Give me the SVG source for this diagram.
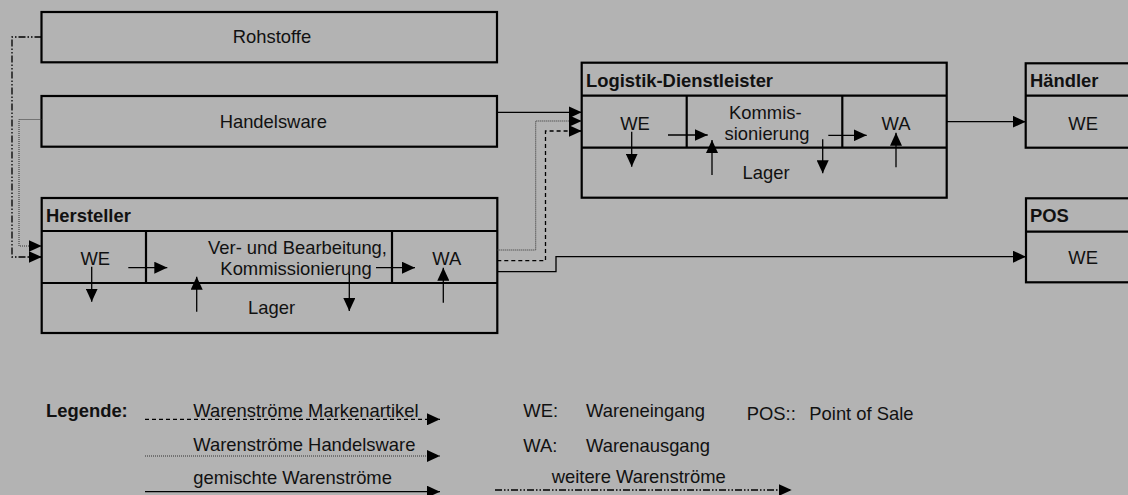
<svg xmlns="http://www.w3.org/2000/svg" width="1128" height="495" viewBox="0 0 1128 495">
<defs>
<marker id="ah" markerUnits="userSpaceOnUse" markerWidth="13" markerHeight="12" viewBox="0 0 13 12" refX="13" refY="6" orient="auto"><path d="M0,0 L13,6 L0,12 Z" fill="#000"/></marker>
<style>
.box{fill:none;stroke:#000;stroke-width:2.2}
.ln{fill:none;stroke:#000;stroke-width:1.3}
.c{fill:none;stroke:#000;stroke-width:1.3}
.solid{}
.dash{stroke-dasharray:4 3}
.dot{stroke:#333;stroke-width:1;stroke-dasharray:1 1}
.dd{stroke-dasharray:7 2 1.5 2 1.5 2}
text{font-family:"Liberation Sans",Arial,sans-serif;font-size:18.4px;fill:#111}
.b{font-weight:bold}
.m{text-anchor:middle}
</style>
</defs>
<rect width="1128" height="495" fill="#b3b3b3"/>

<g id="rohstoffe">
<rect class="box" x="41.5" y="12" width="455.5" height="50.3"/>
<text class="m" x="272" y="43.3">Rohstoffe</text>
</g>

<g id="handelsware">
<rect class="box" x="41.5" y="96" width="455.5" height="50.7"/>
<text class="m" x="273.3" y="128.3">Handelsware</text>
</g>

<g id="hersteller">
<rect class="box" x="41.7" y="198" width="455.6" height="135"/>
<line class="box" x1="41.7" y1="231" x2="497.3" y2="231"/>
<line class="box" x1="41.7" y1="283" x2="497.3" y2="283"/>
<line class="box" x1="146" y1="231" x2="146" y2="283"/>
<line class="box" x1="392" y1="231" x2="392" y2="283"/>
<text class="b" x="46" y="222">Hersteller</text>
<text class="m" x="95.3" y="265">WE</text>
<text class="m" x="297.5" y="254">Ver- und Bearbeitung,</text>
<text class="m" x="296" y="275">Kommissionierung</text>
<text class="m" x="446.7" y="265">WA</text>
<text class="m" x="271.5" y="314">Lager</text>
<line class="ln" x1="91.7" y1="266.7" x2="91.7" y2="301.7" marker-end="url(#ah)"/>
<line class="ln" x1="128.3" y1="267.7" x2="167.3" y2="267.7" marker-end="url(#ah)"/>
<line class="ln" x1="196.7" y1="311.7" x2="196.7" y2="276.7" marker-end="url(#ah)"/>
<line class="ln" x1="349.3" y1="274" x2="349.3" y2="311" marker-end="url(#ah)"/>
<line class="ln" x1="376" y1="267.7" x2="415" y2="267.7" marker-end="url(#ah)"/>
<line class="ln" x1="443.3" y1="302.7" x2="443.3" y2="267.7" marker-end="url(#ah)"/>
</g>

<g id="logistik">
<rect class="box" x="581.7" y="62.7" width="365" height="135"/>
<line class="box" x1="581.7" y1="95.7" x2="946.7" y2="95.7"/>
<line class="box" x1="581.7" y1="147.7" x2="946.7" y2="147.7"/>
<line class="box" x1="686.7" y1="95.7" x2="686.7" y2="147.7"/>
<line class="box" x1="842.3" y1="95.7" x2="842.3" y2="147.7"/>
<text class="b" x="586" y="86.7">Logistik-Dienstleister</text>
<text class="m" x="635" y="130">WE</text>
<text class="m" x="765.3" y="119.3">Kommis-</text>
<text class="m" x="767" y="140">sionierung</text>
<text class="m" x="896" y="130">WA</text>
<text class="m" x="766" y="179.3">Lager</text>
<line class="ln" x1="631.7" y1="131.7" x2="631.7" y2="166.7" marker-end="url(#ah)"/>
<line class="ln" x1="668" y1="135" x2="707.7" y2="135" marker-end="url(#ah)"/>
<line class="ln" x1="712" y1="175" x2="712" y2="140" marker-end="url(#ah)"/>
<line class="ln" x1="822.7" y1="139.3" x2="822.7" y2="173.3" marker-end="url(#ah)"/>
<line class="ln" x1="828.3" y1="135.3" x2="866.7" y2="135.3" marker-end="url(#ah)"/>
<line class="ln" x1="896" y1="167.3" x2="896" y2="132.7" marker-end="url(#ah)"/>
</g>

<g id="haendler">
<rect class="box" x="1025.7" y="63.3" width="130" height="84.4"/>
<line class="box" x1="1025.7" y1="95.7" x2="1140" y2="95.7"/>
<text class="b" x="1030" y="87.3">Händler</text>
<text x="1068.3" y="130">WE</text>
</g>

<g id="pos">
<rect class="box" x="1026" y="198.3" width="130" height="84"/>
<line class="box" x1="1026" y1="231.7" x2="1140" y2="231.7"/>
<text class="b" x="1030" y="222.3">POS</text>
<text x="1068.3" y="264">WE</text>
</g>

<g id="connectors">
<polyline class="c dd" points="41.5,37 12,37 12,257 41.7,257" marker-end="url(#ah)"/>
<polyline class="c dot" points="41.5,119.5 19,119.5 19,246 41.7,246" marker-end="url(#ah)"/>
<polyline class="c" points="497,112.3 581.7,112.3" marker-end="url(#ah)"/>
<polyline class="c dot" points="497.3,250 535.7,250 535.7,121 581.7,121" marker-end="url(#ah)"/>
<polyline class="c dash" points="497.3,260.7 545.5,260.7 545.5,131 581.7,131" marker-end="url(#ah)"/>
<polyline class="c" points="497.3,271.7 556,271.7 556,256.7 1026,256.7" marker-end="url(#ah)"/>
<polyline class="c" points="946.7,121.7 1025.7,121.7" marker-end="url(#ah)"/>
</g>

<g id="legend">
<text class="b" x="46" y="416.7">Legende:</text>
<text x="193.3" y="416.7">Warenströme Markenartikel</text>
<text x="193.3" y="451">Warenströme Handelsware</text>
<text x="193.3" y="484.3">gemischte Warenströme</text>
<line class="c dash" x1="145" y1="419.3" x2="440" y2="419.3" marker-end="url(#ah)"/>
<line class="c dot" x1="145" y1="456" x2="440" y2="456" marker-end="url(#ah)"/>
<line class="c" x1="145" y1="491.7" x2="440" y2="491.7" marker-end="url(#ah)"/>
<text x="523.3" y="416.7">WE:</text>
<text x="586" y="416.7">Wareneingang</text>
<text x="523.3" y="451.7">WA:</text>
<text x="586" y="451.7">Warenausgang</text>
<text x="746.7" y="420">POS::</text>
<text x="809.3" y="420">Point of Sale</text>
<text x="551.7" y="483.3">weitere Warenströme</text>
<line class="c dd" x1="495" y1="490" x2="791.7" y2="490" marker-end="url(#ah)"/>
</g>
</svg>
